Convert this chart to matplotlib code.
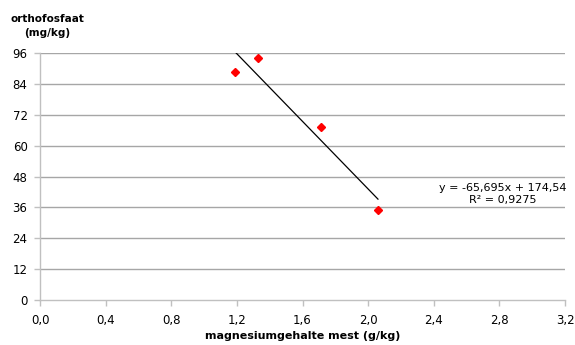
import numpy as np
import matplotlib.pyplot as plt

plt.rcParams['font.family'] = ['DejaVu Sans']

# meetpunten
magnesium = [1.19, 1.33, 1.71, 2.06]
orthofosfaat = [88.8, 94.0, 67.2, 35.0]

# lineaire trendlijn
helling = -65.695
intercept = 174.54
r2 = 0.9275

x_ticks = np.arange(0, 3.21, 0.4)
y_ticks = np.arange(0, 97, 12)

fig = plt.figure(figsize=(5.75, 3.45), dpi=100)
ax = fig.add_axes([40 / 575, 1 - 300 / 345, 525 / 575, 247 / 345])

for yt in y_ticks[1:]:
    ax.axhline(yt, color='#a6a6a6', linewidth=1.0, zorder=1)

xl = np.array([min(magnesium), max(magnesium)])
ax.plot(xl, helling * xl + intercept, color='black', linewidth=0.9, zorder=2)
ax.plot(magnesium, orthofosfaat, linestyle='none', marker='D', markersize=4.5,
        color='#ff0000', zorder=3)

ax.set_xlim(0, 3.2)
ax.set_ylim(0, 96)
ax.set_xticks(x_ticks)
ax.set_xticklabels([f'{v:.1f}'.replace('.', ',') for v in x_ticks])
ax.set_yticks(y_ticks)
ax.set_yticklabels([str(v) for v in y_ticks])

for s in ['top', 'right']:
    ax.spines[s].set_visible(False)
for s in ['left', 'bottom']:
    ax.spines[s].set_color('#c0c0c0')
    ax.spines[s].set_linewidth(1.0)
ax.tick_params(axis='both', colors='#c0c0c0', labelcolor='black', labelsize=8.5,
               length=4, width=1.0, direction='out')
ax.tick_params(axis='x', pad=6)
ax.tick_params(axis='y', pad=5)

ax.set_xlabel('magnesiumgehalte mest (g/kg)', fontsize=8, fontweight='bold', labelpad=3)
fig.text(47 / 575, 1 - 38 / 345, 'orthofosfaat\n(mg/kg)', ha='center', va='bottom',
         fontsize=7.5, fontweight='bold', linespacing=1.5)

ax.text(2.82, 36.8,
        f'y = {helling:.3f}x + {intercept:.2f}'.replace('.', ',') + '\n' +
        f'R² = {r2:.4f}'.replace('.', ','),
        ha='center', va='bottom', fontsize=8, linespacing=1.35)

fig.savefig('out.png', dpi=100)
